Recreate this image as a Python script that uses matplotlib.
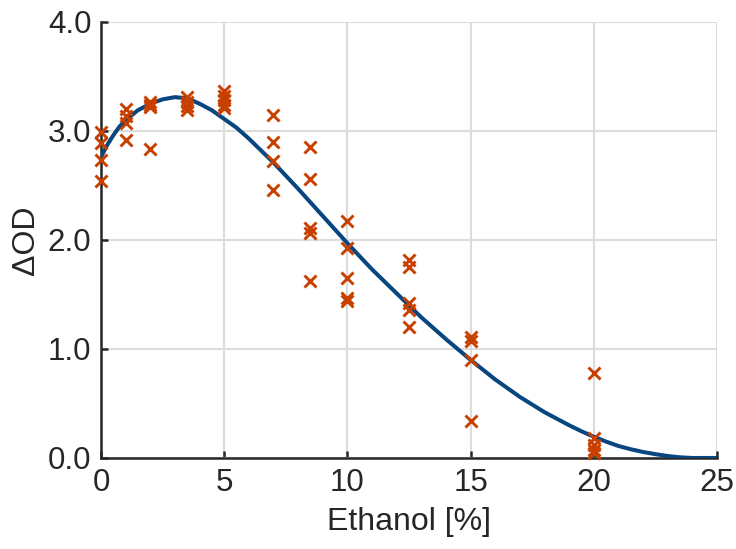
import matplotlib
matplotlib.use("Agg")
import matplotlib.pyplot as plt
import numpy as np

# Measured data (x = ethanol %, y = ΔOD)
ethanol_levels = [0, 1, 2, 3.5, 5, 7, 8.5, 10, 12.5, 15, 20]
od_values = [
    [2.99, 2.89, 2.73, 2.54],
    [3.20, 3.14, 3.07, 2.92],
    [3.27, 3.24, 3.22, 2.83],
    [3.31, 3.27, 3.23, 3.19],
    [3.37, 3.32, 3.28, 3.24, 3.21],
    [3.15, 2.90, 2.72, 2.46],
    [2.85, 2.56, 2.11, 2.06, 1.62],
    [2.17, 1.93, 1.65, 1.47, 1.44],
    [1.82, 1.75, 1.42, 1.36, 1.20],
    [1.11, 1.07, 0.90, 0.34],
    [0.78, 0.18, 0.12, 0.07, 0.05],
]

# Fitted curve
fit_x = [0, 0.25, 0.5, 0.75, 1, 1.5, 2, 2.5, 3, 3.5, 4, 4.5, 5, 5.5, 6, 6.5, 7, 8, 9,
         10, 11, 12, 13, 14, 15, 16, 17, 18, 19, 19.5, 20, 20.5, 21, 21.5, 22,
         22.5, 23, 23.5, 24, 25]
fit_y = [2.76, 2.87, 2.96, 3.04, 3.10, 3.19, 3.25, 3.29, 3.31, 3.30, 3.25, 3.19,
         3.11, 3.03, 2.93, 2.82, 2.71, 2.47, 2.22, 1.97, 1.73, 1.51, 1.29, 1.09,
         0.90, 0.72, 0.56, 0.42, 0.30, 0.245, 0.195, 0.15, 0.11, 0.08, 0.055,
         0.035, 0.018, 0.006, 0.0, 0.0]

x_ticks = [0, 5, 10, 15, 20, 25]
y_ticks = [0.0, 1.0, 2.0, 3.0, 4.0]

plt.rcParams['font.family'] = ['Liberation Sans', 'DejaVu Sans']

fig = plt.figure(figsize=(7.36, 5.49), dpi=100)
ax = fig.add_axes([0.1372, 0.1658, 0.837, 0.7942])

axis_col = '#262626'
ax.plot(fit_x, fit_y, color='#07467f', lw=2.9, zorder=3, solid_capstyle='butt')

xs, ys = [], []
for xv, vals in zip(ethanol_levels, od_values):
    for v in vals:
        xs.append(xv)
        ys.append(v)
ax.plot(xs, ys, linestyle='none', marker='x', ms=8.5, mew=2.1,
        color='#c84000', zorder=4, clip_on=False)

ax.set_xlim(0, 25)
ax.set_ylim(0, 4)
ax.set_xticks(x_ticks)
ax.set_yticks(y_ticks)
ax.set_xticklabels([str(t) for t in x_ticks])
ax.set_yticklabels([f"{t:.1f}" for t in y_ticks])

ax.grid(True, color='#dcdcdc', lw=1.5)
ax.set_axisbelow(True)
for s in ['top', 'right']:
    ax.spines[s].set_visible(False)
for s in ['left', 'bottom']:
    ax.spines[s].set_color(axis_col)
    ax.spines[s].set_linewidth(1.8)
    ax.spines[s].set_zorder(2)

ax.tick_params(direction='in', length=5, width=1.8, colors=axis_col,
               labelsize=22.5, pad=7)
ax.set_xlabel('Ethanol [%]', fontsize=23, color=axis_col, labelpad=7)
ax.set_ylabel('ΔOD', fontsize=23, color=axis_col, labelpad=5)

fig.savefig('out.png', dpi=100)
